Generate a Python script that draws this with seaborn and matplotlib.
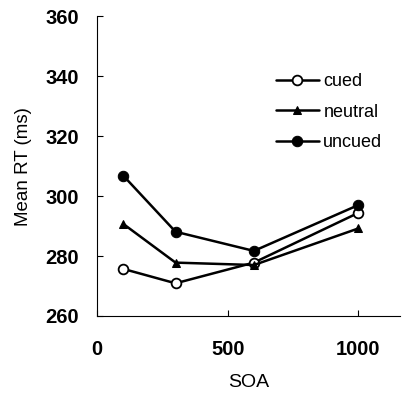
import pandas as pd
import numpy as np
import matplotlib
matplotlib.use('Agg')
import matplotlib.pyplot as plt
import seaborn as sns

# datos
soa = [100, 300, 600, 1000]
cued = [275.7, 270.9, 277.8, 294.4]
neutral = [290.7, 277.8, 277.0, 289.2]
uncued = [306.8, 288.1, 281.7, 297.0]

sns.set_style('ticks', {'axes.edgecolor': 'black', 'text.color': 'black',
                        'axes.labelcolor': 'black', 'xtick.color': 'black',
                        'ytick.color': 'black'})
plt.rcParams['font.family'] = ['Liberation Sans', 'DejaVu Sans']

fig = plt.figure(figsize=(4.05, 3.94), dpi=100)
ax = fig.add_axes([0.24, 0.198, 0.748, 0.761])

sns.lineplot(x=soa, y=cued, ax=ax, color='black', lw=1.8, marker='o', ms=7,
             markerfacecolor='white', markeredgecolor='black', markeredgewidth=1.3, label='cued')
sns.lineplot(x=soa, y=neutral, ax=ax, color='black', lw=1.8, marker='^', ms=6,
             markerfacecolor='black', markeredgecolor='black', label='neutral')
sns.lineplot(x=soa, y=uncued, ax=ax, color='black', lw=1.8, marker='o', ms=7.5,
             markerfacecolor='black', markeredgecolor='black', label='uncued')

ax.set_xlim(0, 1160)
ax.set_ylim(260, 360)
ax.set_xticks([0, 500, 1000])
ax.set_yticks([260, 280, 300, 320, 340, 360])
ax.tick_params(direction='in', length=4, width=0.8, labelsize=14.5)
for lab in ax.get_xticklabels() + ax.get_yticklabels():
    lab.set_fontweight('bold')
ax.tick_params(axis='y', pad=13)
ax.tick_params(axis='x', pad=17)
sns.despine(ax=ax)
for s in ['left', 'bottom']:
    ax.spines[s].set_linewidth(0.8)

ax.set_xlabel('SOA', fontsize=14, labelpad=11)
ax.set_ylabel('Mean RT (ms)', fontsize=13.5, labelpad=10)

ax.legend(loc='center left', bbox_to_anchor=(0.535, 0.68), frameon=False,
          fontsize=13, handlelength=2.4, handletextpad=0.25, labelspacing=0.75)

fig.savefig('out.png', dpi=100)
